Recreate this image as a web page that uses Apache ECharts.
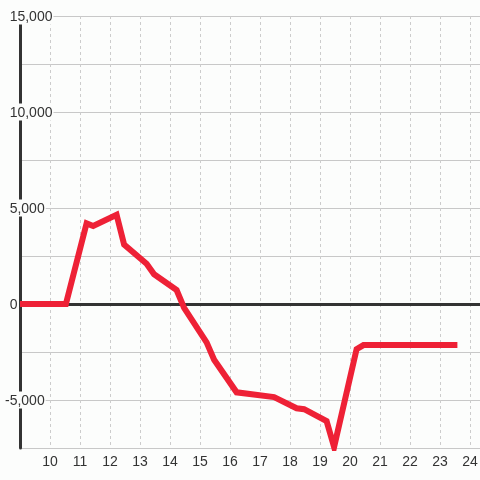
<!DOCTYPE html>
<html>
<head>
<meta charset="utf-8">
<script src="https://cdn.jsdelivr.net/npm/echarts@6/dist/echarts.min.js"></script>
<style>
html,body{margin:0;padding:0;background:#fcfdfc;}
#c{width:480px;height:480px;}
</style>
</head>
<body>
<div id="c"></div>
<script>
const xValues = [9, 10.53, 11.22, 11.44, 12.22, 12.47, 13.22, 13.47, 14.22, 14.47, 15.22, 15.47, 16.22, 17.47, 18.22, 18.47, 19.22, 19.47, 20.22, 20.45, 23.58];
const yValues = [0, 0, 4200, 4060, 4650, 3100, 2100, 1550, 730, -200, -2000, -2900, -4600, -4850, -5430, -5480, -6100, -7450, -2350, -2140, -2140];
const yTickLabels = [-5000, 0, 5000, 10000, 15000];
const xTickLabels = [10, 11, 12, 13, 14, 15, 16, 17, 18, 19, 20, 21, 22, 23, 24];
const zeroLineValue = 0;

const bg = '#fcfdfc';
const font = 'Liberation Sans, Arial, sans-serif';
const chart = echarts.init(document.getElementById('c'));
chart.setOption({
  backgroundColor: bg,
  animation: false,
  grid: { left: 20, right: -10, top: 16, bottom: 32, containLabel: false, outerBoundsMode: 'none' },
  xAxis: {
    type: 'value', min: 9, max: 24.6667, interval: 1,
    axisLine: { show: false, onZero: false }, axisTick: { show: false },
    axisLabel: {
      margin: 7, fontSize: 14, color: '#333', fontFamily: font,
      formatter: v => xTickLabels.indexOf(v) >= 0 ? String(v) : ''
    },
    splitLine: { show: true, lineStyle: { color: '#cccccc', width: 1, type: [3, 3] } }
  },
  yAxis: {
    type: 'value', min: -7500, max: 15000, interval: 2500,
    axisLine: { show: true, onZero: false, lineStyle: { color: '#333', width: 3 } },
    axisTick: { show: false },
    axisLabel: {
      margin: 15, align: 'left', fontSize: 14, color: '#333', fontFamily: font,
      backgroundColor: bg, padding: [3, 1, 0, 0],
      rich: { h: { color: 'rgba(0,0,0,0)', fontSize: 14, fontFamily: font } },
      formatter: v => {
        if (yTickLabels.indexOf(v) < 0) return '';
        const s = v.toLocaleString('en-US');
        return v < 0 ? s : '{h|-}' + s;
      }
    },
    splitLine: { show: true, lineStyle: { color: '#c8c8c8', width: 1 } }
  },
  series: [{
    type: 'line', data: [], z: 3, silent: true,
    markLine: {
      silent: true, symbol: 'none', label: { show: false },
      lineStyle: { color: '#333', width: 3, type: 'solid' },
      data: [{ yAxis: zeroLineValue }]
    }
  }, {
    type: 'line',
    data: xValues.map((x, i) => [x, yValues[i]]),
    showSymbol: false, symbol: 'none',
    lineStyle: { color: '#ee2136', width: 6, cap: 'butt', join: 'miter' },
    z: 5
  }]
});
</script>
</body>
</html>
